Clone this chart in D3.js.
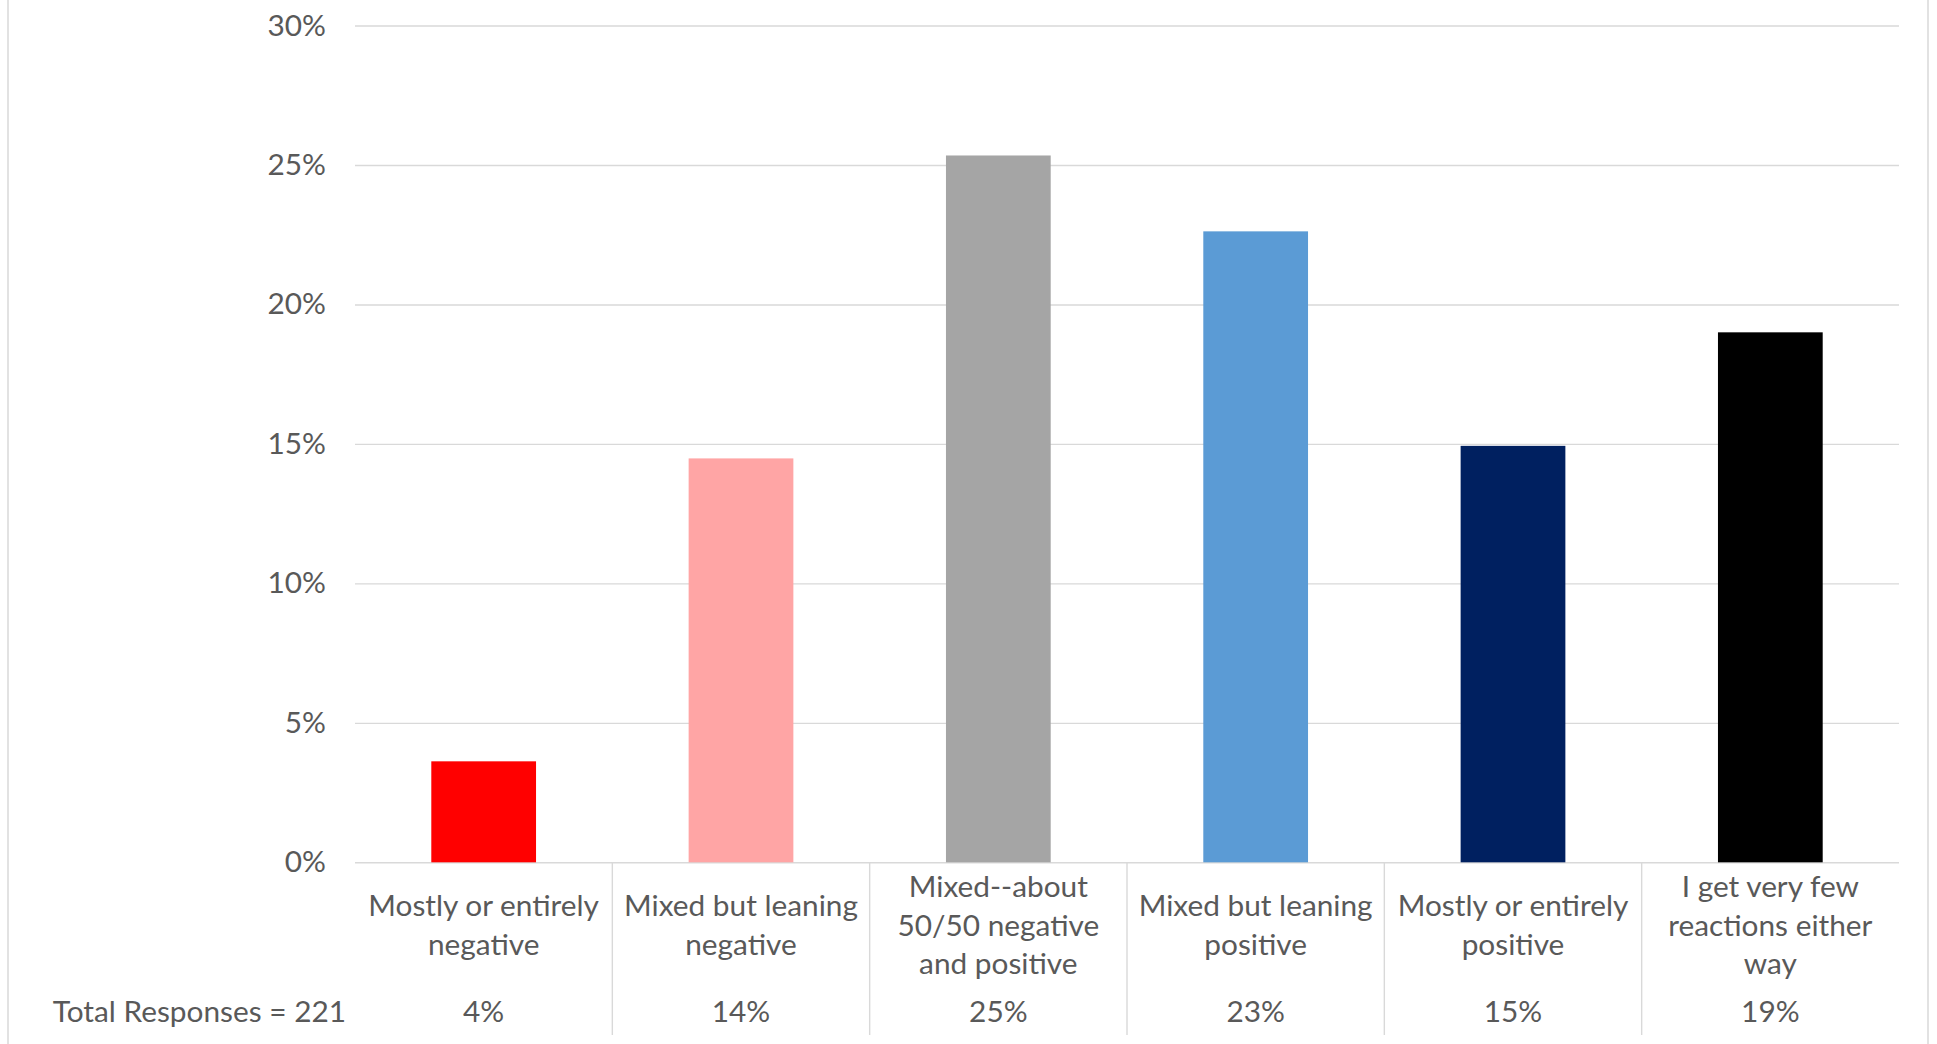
<!DOCTYPE html>
<html>
<head>
<meta charset="utf-8">
<script src="https://cdn.jsdelivr.net/npm/d3@7"></script>
<style>
  html, body { margin: 0; padding: 0; background: #ffffff; }
  svg { display: block; }
  text { font-family: Lato, "Open Sans", sans-serif; fill: #595959; }
</style>
</head>
<body>
<svg id="chart" width="1937" height="1044"></svg>
<script>
// ---- data ----
const categories = [
  "Mostly or entirely negative",
  "Mixed but leaning negative",
  "Mixed--about 50/50 negative and positive",
  "Mixed but leaning positive",
  "Mostly or entirely positive",
  "I get very few reactions either way"
];
const categoryLines = [
  ["Mostly or entirely", "negative"],
  ["Mixed but leaning", "negative"],
  ["Mixed--about", "50/50 negative", "and positive"],
  ["Mixed but leaning", "positive"],
  ["Mostly or entirely", "positive"],
  ["I get very few", "reactions either", "way"]
];
const values = [0.0362, 0.1448, 0.2534, 0.2262, 0.1493, 0.1900];
const tableLabels = ["4%", "14%", "25%", "23%", "15%", "19%"];
const colors = ["#FF0000", "#FFA5A5", "#A5A5A5", "#5B9BD5", "#002060", "#000000"];
const yTicks = [0, 0.05, 0.10, 0.15, 0.20, 0.25, 0.30];
const rowHeader = "Total Responses = 221";

// ---- layout ----
const W = 1937, H = 1044;
const plotLeft = 355, plotRight = 1899, plotTop = 25.5, plotBottom = 862.3;
const fontSize = 29.8;

const svg = d3.select("#chart");

const x = d3.scaleBand().domain(categories).range([plotLeft, plotRight]).paddingInner(0).paddingOuter(0);
const y = d3.scaleLinear().domain([0, 0.30]).range([plotBottom, plotTop]);

// outer chart border (left & right visible)
svg.append("line").attr("x1", 8).attr("x2", 8).attr("y1", 0).attr("y2", H)
  .attr("stroke", "#D9D9D9").attr("stroke-width", 1.5);
svg.append("line").attr("x1", 1928).attr("x2", 1928).attr("y1", 0).attr("y2", H)
  .attr("stroke", "#D9D9D9").attr("stroke-width", 1.5);

// gridlines
const grid = svg.append("g").attr("transform", `translate(${plotLeft},0)`)
  .call(d3.axisLeft(y).tickValues(yTicks).tickSize(-(plotRight - plotLeft)).tickFormat(""));
grid.select(".domain").remove();
grid.selectAll(".tick line").attr("stroke", "#D9D9D9").attr("stroke-width", 1.4);

// y axis labels
const yAxis = svg.append("g").attr("transform", `translate(${plotLeft - 29},0)`)
  .call(d3.axisLeft(y).tickValues(yTicks).tickSize(0).tickPadding(0).tickFormat(d3.format(".0%")));
yAxis.select(".domain").remove();
yAxis.selectAll(".tick text")
  .style("font-family", "Lato, 'Open Sans', sans-serif")
  .style("font-size", fontSize + "px")
  .attr("fill", "#595959");

// bars
const barW = x.bandwidth() * 0.407;
svg.append("g").selectAll("rect").data(values).join("rect")
  .attr("x", (d, i) => x(categories[i]) + (x.bandwidth() - barW) / 2)
  .attr("y", d => y(d))
  .attr("width", barW)
  .attr("height", d => y(0) - y(d))
  .attr("fill", (d, i) => colors[i]);

// data table separators
const sepBottom = 1035;
svg.append("g").selectAll("line").data(categories.slice(1)).join("line")
  .attr("x1", d => x(d)).attr("x2", d => x(d))
  .attr("y1", plotBottom).attr("y2", sepBottom)
  .attr("stroke", "#D9D9D9").attr("stroke-width", 1.4);

// category labels (multi-line)
const lineH = 38.3, blockCenter = 924.0;
const catG = svg.append("g");
categoryLines.forEach((lines, i) => {
  const cx = x(categories[i]) + x.bandwidth() / 2;
  const start = blockCenter - (lines.length - 1) * lineH / 2;
  lines.forEach((ln, j) => {
    catG.append("text")
      .attr("x", cx).attr("y", start + j * lineH)
      .attr("text-anchor", "middle").attr("dominant-baseline", "central")
      .style("font-size", fontSize + "px")
      .text(ln);
  });
});

// data table values
const rowY = 1010.6;
svg.append("g").selectAll("text").data(tableLabels).join("text")
  .attr("x", (d, i) => x(categories[i]) + x.bandwidth() / 2)
  .attr("y", rowY)
  .attr("text-anchor", "middle").attr("dominant-baseline", "central")
  .style("font-size", fontSize + "px")
  .text(d => d);

svg.append("text")
  .attr("x", 346).attr("y", rowY)
  .attr("text-anchor", "end").attr("dominant-baseline", "central")
  .style("font-size", fontSize + "px")
  .text(rowHeader);
</script>
</body>
</html>
